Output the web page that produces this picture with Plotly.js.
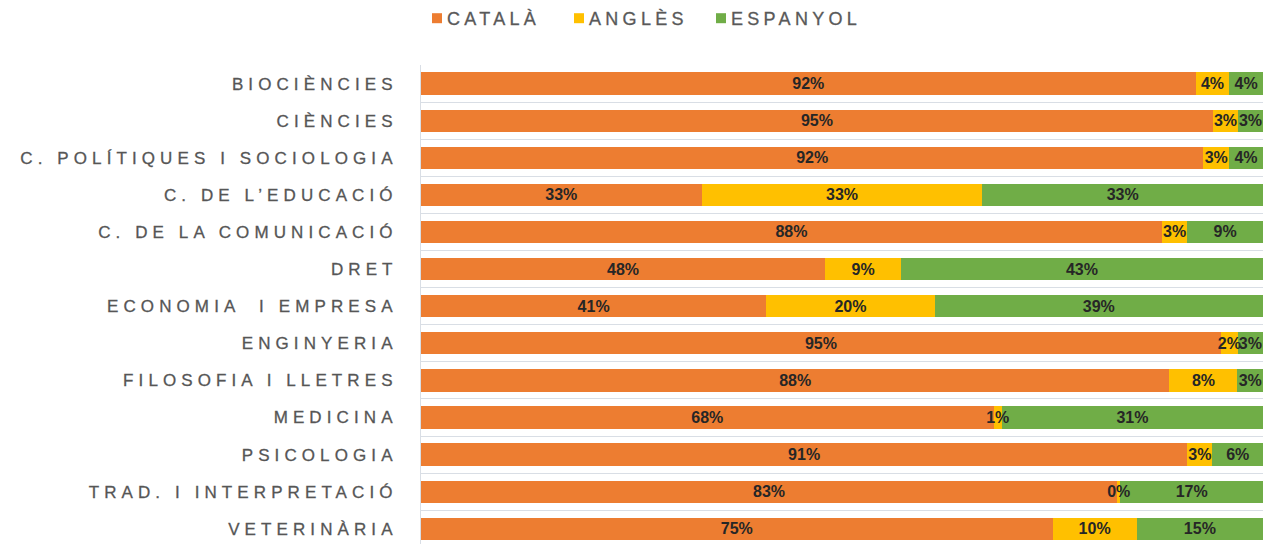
<!DOCTYPE html>
<html>
<head>
<meta charset="utf-8">
<script src="https://cdn.plot.ly/plotly-3.0.1.min.js"></script>
<style>
  html, body { margin: 0; padding: 0; background: #fff; }
  #chart { width: 1284px; height: 544px; }
  .ytick text { letter-spacing: 5.1px; stroke: #595959; stroke-width: 0.3px; }
  .legendtext { letter-spacing: 4.3px; stroke: #595959; stroke-width: 0.3px; }
</style>
</head>
<body>
<div id="chart"></div>
<script>
const categories = [
  "BIOCIÈNCIES",
  "CIÈNCIES",
  "C. POLÍTIQUES I SOCIOLOGIA",
  "C. DE L\u2019EDUCACIÓ",
  "C. DE LA COMUNICACIÓ",
  "DRET",
  "ECONOMIA  I EMPRESA",
  "ENGINYERIA",
  "FILOSOFIA I LLETRES",
  "MEDICINA",
  "PSICOLOGIA",
  "TRAD. I INTERPRETACIÓ",
  "VETERINÀRIA"
];
const catala   = [92, 95, 92, 33, 88, 48, 41, 95, 88, 68, 91, 83, 75];
const angles   = [4, 3, 3, 33, 3, 9, 20, 2, 8, 1, 3, 0.4, 10];
const espanyol = [4, 3, 4, 33, 9, 43, 39, 3, 3, 31, 6, 17, 15];

const seriesNames = ["CATALÀ", "ANGLÈS", "ESPANYOL"];
const seriesColors = ["#ED7D31", "#FFC000", "#70AD47"];
const seriesValues = [catala, angles, espanyol];
const legendWidths = [97, 97, 150];

const traces = seriesValues.map((vals, i) => ({
  type: "bar",
  orientation: "h",
  name: seriesNames[i],
  legendwidth: legendWidths[i],
  y: categories,
  x: vals,
  text: vals.map(v => Math.round(v) + "%"),
  textposition: "inside",
  insidetextanchor: "middle",
  textangle: 0,
  constraintext: "none",
  cliponaxis: false,
  textfont: { family: "Liberation Sans, Arial, sans-serif", size: 16, color: "#262626", weight: "bold" },
  marker: { color: seriesColors[i], line: { width: 0 } },
  hoverinfo: "skip"
}));

const layout = {
  width: 1284,
  height: 544,
  barmode: "stack",
  barnorm: "percent",
  bargap: 0.4,
  margin: { l: 421, r: 21, t: 65, b: 0, pad: 0 },
  paper_bgcolor: "#ffffff",
  plot_bgcolor: "#ffffff",
  font: { family: "Liberation Sans, Arial, sans-serif", color: "#595959" },
  showlegend: true,
  legend: {
    orientation: "h",
    x: -0.0095,
    xanchor: "left",
    y: 1.098,
    yanchor: "middle",
    font: { size: 18, color: "#595959" },
    itemwidth: 30,
    entrywidthmode: "pixels",
    traceorder: "normal",
    bgcolor: "rgba(0,0,0,0)"
  },
  xaxis: {
    range: [0, 100.0001],
    showgrid: false,
    zeroline: false,
    showticklabels: false,
    showline: false,
    fixedrange: true
  },
  yaxis: {
    type: "category",
    range: [12.41, -0.5],
    tickson: "boundaries",
    showgrid: true,
    gridcolor: "#D9DEE5",
    gridwidth: 1,
    showline: true,
    linecolor: "#D9DEE5",
    linewidth: 1,
    ticks: "",
    ticklabelstandoff: 19,
    tickfont: { size: 17, color: "#555555" },
    automargin: false,
    fixedrange: true
  }
};

Plotly.newPlot("chart", traces, layout, { displayModeBar: false, staticPlot: true }).then(gd => {
  // bring all bar labels above every bar segment
  const barlayer = gd.querySelector(".barlayer");
  if (barlayer) {
    const top = document.createElementNS("http://www.w3.org/2000/svg", "g");
    top.setAttribute("class", "bartext-top");
    barlayer.querySelectorAll("text.bartext").forEach(t => top.appendChild(t));
    barlayer.appendChild(top);
  }
  // tighter legend symbol / text gap
  gd.querySelectorAll(".legendpoints path").forEach(p => {
    p.setAttribute("d", "M5,5H-5V-5H5Z");
    p.setAttribute("transform", "translate(24,0)");
  });
  gd.querySelectorAll(".legendtext").forEach(t => t.setAttribute("x", "34"));
});
</script>
</body>
</html>
